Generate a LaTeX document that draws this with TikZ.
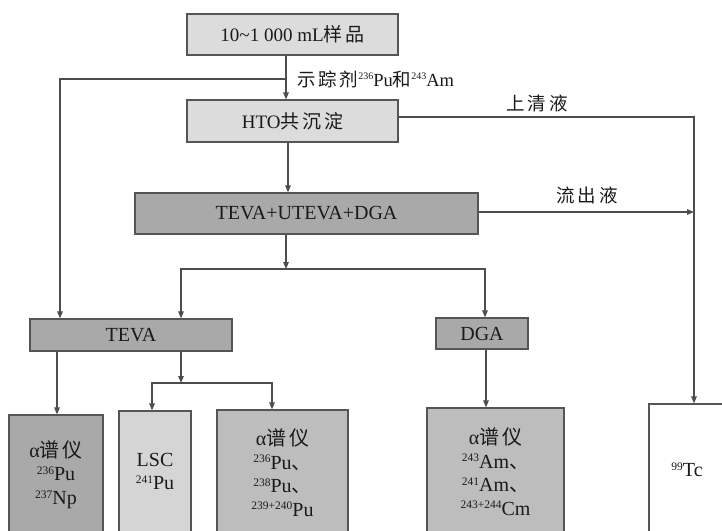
\documentclass[tikz,border=0pt]{standalone}
\usepackage{fontspec}
\setmainfont{Liberation Serif}
\newfontfamily\cjk[LetterSpace=15]{Noto Sans CJK SC}
\usetikzlibrary{arrows.meta}
\newcommand\zh[1]{{\cjk #1}}
\newcommand\sps[2][11.5]{\raisebox{6.3pt}{\fontsize{#1}{#1}\selectfont #2}}
\definecolor{boxline}{HTML}{555555}
\definecolor{lineclr}{HTML}{4D4D4D}
\definecolor{light}{HTML}{DCDCDC}
\definecolor{dark}{HTML}{A9A9A9}
\definecolor{mid}{HTML}{BDBDBD}
\definecolor{lscfill}{HTML}{D5D5D5}
\definecolor{txt}{HTML}{1A1A1A}
\begin{document}
\begin{tikzpicture}[x=1pt,y=-1pt,
  box/.style={draw=boxline, line width=1.2pt, rectangle, inner sep=0pt, align=center,
    font=\fontsize{20}{23.5}\selectfont, text=txt},
  conn/.style={draw=lineclr, line width=1.2pt},
  arr/.style={conn, -{Triangle[length=7pt,width=5.5pt]}},
  lbl/.style={font=\fontsize{18.5}{22}\selectfont, text=txt, inner sep=0pt}]
\useasboundingbox (0,0) rectangle (722,530);
\clip (0,0) rectangle (722,530);
\fill[white] (0,0) rectangle (722,530);

% boxes
\node[box, font=\fontsize{19}{23}\selectfont, fill=light, minimum width=211pt, minimum height=41pt] (sample) at (292.5,34.5) {10\textasciitilde 1 000 mL\zh{样品}};
\node[box, font=\fontsize{19}{23}\selectfont, fill=light, minimum width=211pt, minimum height=42pt] (hto) at (292.5,121) {HTO\zh{共沉淀}};
\node[box, fill=dark, minimum width=343pt, minimum height=41pt] (mix) at (306.5,213.5) {TEVA+UTEVA+DGA};
\node[box, fill=dark, minimum width=202pt, minimum height=32pt] (teva) at (131,335) {TEVA};
\node[box, fill=dark, minimum width=92pt, minimum height=31pt] (dga) at (482,333.5) {DGA};
\node[box, fill=dark, minimum width=94pt, minimum height=119pt] (a1) at (56,474.5) {α\zh{谱仪}\\\sps{236}Pu\\\sps{237}Np};
\node[box, fill=lscfill, minimum width=72pt, minimum height=121pt] (lsc) at (155,471.5) {LSC\\\sps{241}Pu};
\node[box, fill=mid, minimum width=131pt, minimum height=125pt] (pu) at (282.5,472.5) {α\zh{谱仪}\\\sps{236}Pu\zh{、}\\\sps{238}Pu\zh{、}\\\sps{239+240}Pu};
\node[box, fill=mid, minimum width=137pt, minimum height=127pt] (am) at (495.5,471.5) {α\zh{谱仪}\\\sps{243}Am\zh{、}\\\sps{241}Am\zh{、}\\\sps{243+244}Cm};
\node[box, fill=white, minimum width=76pt, minimum height=132pt] (tc) at (687,470) {\sps{99}Tc};

% junction coordinates
\coordinate (j1) at (286,79);
\coordinate (b1) at (286,269);
\coordinate (b2) at (181,383);
\coordinate (tcv) at (694,0);

% connectors
\draw[arr] ([xshift=-6.5pt]sample.south) -- ([xshift=-6.5pt]hto.north);
\draw[arr] (j1) -| ([xshift=-71pt]teva.north);
\draw[arr] ([xshift=-4.5pt]hto.south) -- ([xshift=-4.5pt]hto.south |- mix.north);
\draw[arr] ([yshift=4pt]hto.east) -| ([xshift=7pt]tc.north);
\draw[arr] ([yshift=1.5pt]mix.east) -- ([yshift=1.5pt]mix.east -| tcv);
\draw[arr] ([xshift=-20.5pt]mix.south) -- (b1);
\draw[arr] (b1) -| ([xshift=50pt]teva.north);
\draw[arr] (b1) -| ([xshift=3pt]dga.north);
\draw[arr] ([xshift=-74pt]teva.south) -- ([xshift=-74pt]teva.south |- a1.north);
\draw[arr] ([xshift=50pt]teva.south) -- (b2);
\draw[arr] (b2) -| ([xshift=-3pt]lsc.north);
\draw[arr] (b2) -| ([xshift=-10.5pt]pu.north);
\draw[arr] ([xshift=4pt]dga.south) -- ([xshift=4pt]dga.south |- am.north);

% labels
\node[lbl, anchor=west] (trlbl) at (297,79) {\zh{示踪剂}\sps[10]{236}Pu\zh{和}\sps[10]{243}Am};
\node[lbl] (sqlbl) at (537,103) {\zh{上清液}};
\node[lbl] (lclbl) at (587,195) {\zh{流出液}};
\end{tikzpicture}
\end{document}
